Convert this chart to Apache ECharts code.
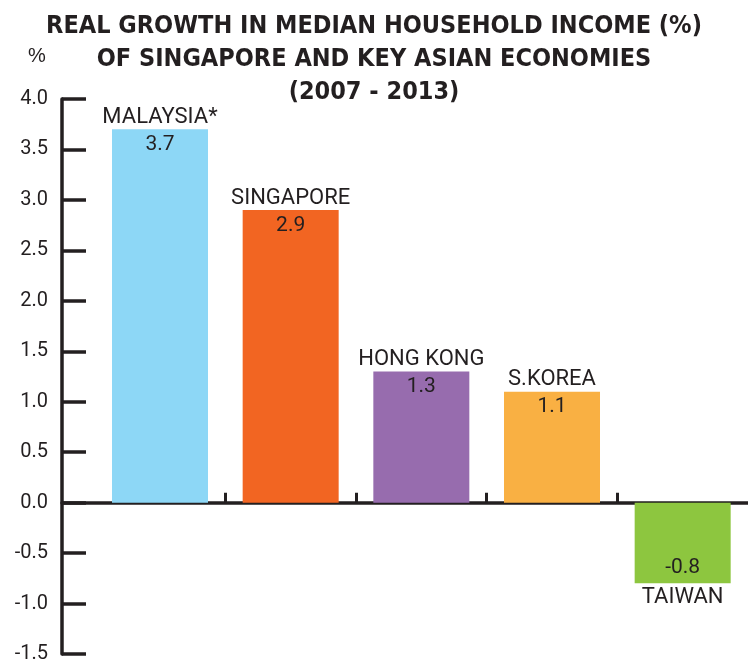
<!DOCTYPE html>
<html>
<head>
<meta charset="utf-8">
<style>
  html, body { margin: 0; padding: 0; width: 100%; height: 100%; overflow: hidden; background: #fff; }
  #chart { width: 748px; height: 664px; }
</style>
</head>
<body>
<div id="chart"></div>
<script src="https://cdn.jsdelivr.net/npm/echarts@6/dist/echarts.min.js"></script>
<script>
  // data
  const economies = ["MALAYSIA*", "SINGAPORE", "HONG KONG", "S.KOREA", "TAIWAN"];
  const growth = [3.7, 2.9, 1.3, 1.1, -0.8];
  const yTicks = [-1.5, -1.0, -0.5, 0.0, 0.5, 1.0, 1.5, 2.0, 2.5, 3.0, 3.5, 4.0];
  const unitLabel = "%";

  const palette = ["#8dd7f6", "#f26522", "#976cae", "#f9b043", "#8dc63f"];
  const ink = "#231f20";
  const font = "Roboto, 'Liberation Sans', sans-serif";
  const titleFont = "'Liberation Sans Narrow', 'DejaVu Sans Condensed', sans-serif";

  const chart = echarts.init(document.getElementById("chart"));

  const barData = growth.map((v, i) => ({
    value: [i, v],
    itemStyle: { color: palette[i] },
    label: { position: v >= 0 ? "insideTop" : "insideBottom" },
  }));

  const nameData = growth.map((v, i) => ({
    value: [i, v],
    label: { position: v >= 0 ? "top" : "bottom", distance: v >= 0 ? 1 : 3 },
  }));

  const option = {
    animation: false,
    backgroundColor: "#fff",
    title: [
      {
        text: "REAL GROWTH IN MEDIAN HOUSEHOLD INCOME (%)\nOF SINGAPORE AND KEY ASIAN ECONOMIES\n(2007 - 2013)",
        left: "center",
        top: 5,
        textStyle: {
          fontFamily: titleFont,
          fontWeight: "bold",
          fontSize: 25,
          lineHeight: 33,
          color: ink,
        },
      },
      {
        // unit label of the y axis
        text: unitLabel,
        left: 28,
        top: 46,
        padding: 0,
        textStyle: { fontFamily: "'Liberation Sans', 'DejaVu Sans', sans-serif", fontWeight: "normal", fontSize: 20, color: ink },
      },
    ],
    grid: { left: 62, right: 0, top: 99, bottom: 5, containLabel: false },
    xAxis: {
      type: "value",
      min: -0.75,
      max: 4.5,
      axisLine: { onZero: true, lineStyle: { color: ink, width: 3.5 } },
      axisTick: {
        show: true,
        inside: true,
        length: 10,
        customValues: [0.5, 1.5, 2.5, 3.5],
        lineStyle: { color: ink, width: 3 },
      },
      axisLabel: { show: false },
      splitLine: { show: false },
    },
    yAxis: {
      type: "value",
      min: yTicks[0],
      max: yTicks[yTicks.length - 1],
      interval: 0.5,
      axisLine: { show: true, onZero: false, lineStyle: { color: ink, width: 3.5 } },
      axisTick: { show: true, inside: true, length: 24, lineStyle: { color: ink, width: 3.5 } },
      axisLabel: {
        margin: 14,
        fontFamily: font,
        fontSize: 20,
        color: ink,
        formatter: (v) => v.toFixed(1),
      },
      splitLine: { show: false },
    },
    series: [
      {
        type: "bar",
        barWidth: 96,
        data: barData,
        label: {
          show: true,
          distance: 5,
          fontFamily: font,
          fontSize: 21,
          color: ink,
          formatter: (p) => p.value[1].toFixed(1),
        },
        z: 1,
      },
      {
        type: "bar",
        barWidth: 96,
        barGap: "-100%",
        silent: true,
        itemStyle: { color: "rgba(0,0,0,0)" },
        data: nameData,
        label: {
          show: true,
          fontFamily: font,
          fontSize: 22,
          color: ink,
          formatter: (p) => economies[p.dataIndex],
        },
        z: 2,
      },
    ],
  };

  chart.setOption(option);
</script>
</body>
</html>
